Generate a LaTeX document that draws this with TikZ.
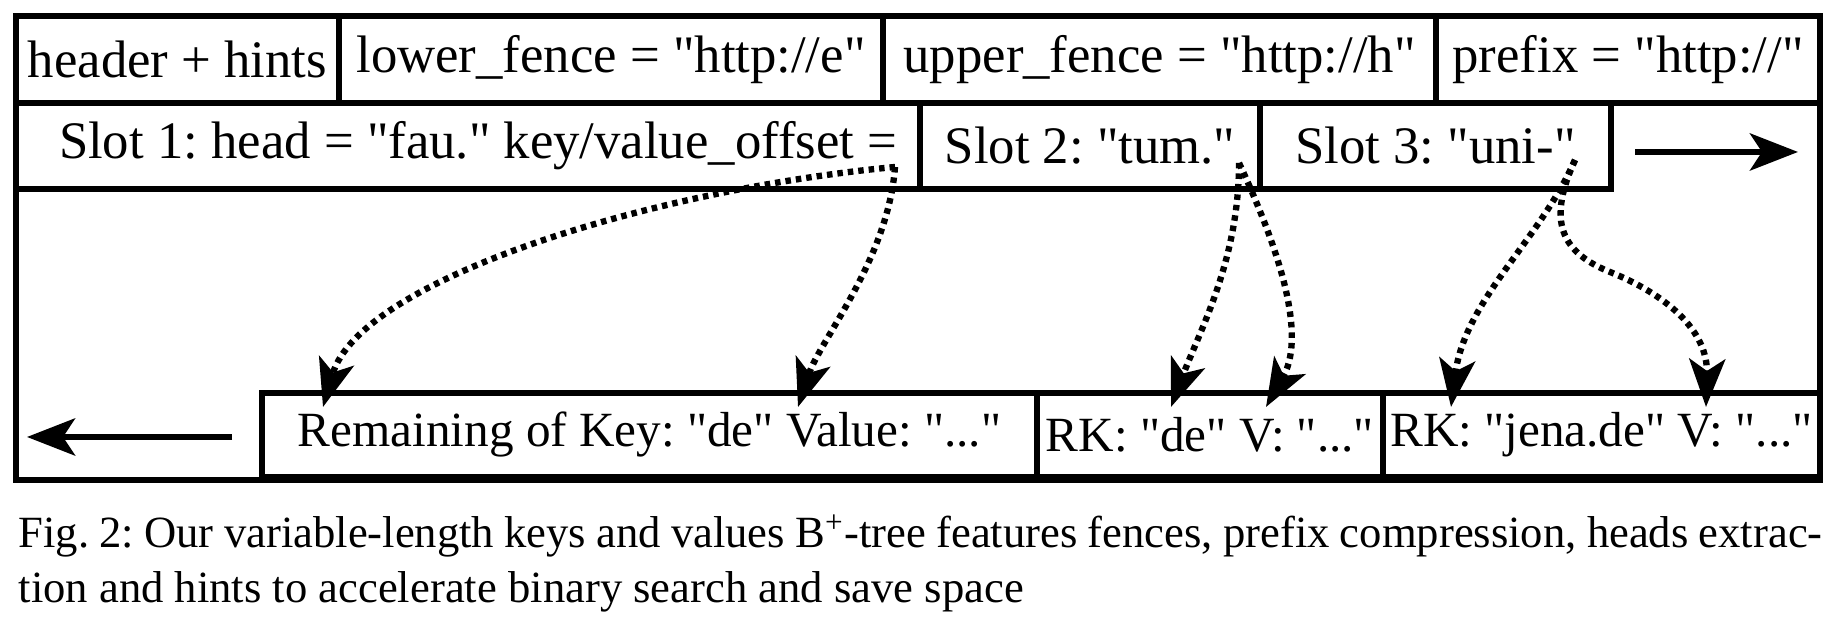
\documentclass[tikz,border=0pt]{standalone}
\usepackage{fontspec}
\setmainfont{Liberation Serif}[Ligatures=TeXOff]
\usetikzlibrary{arrows.meta}

\begin{document}
\frenchspacing
\begin{tikzpicture}[line width=1.5pt,
  ptr/.style={line width=1.8pt,dash pattern=on 0.55mm off 0.5mm,-{Stealth[length=4.8mm,width=3.6mm,inset=1.2mm]}},
  dir/.style={line width=1.9pt,-{Stealth[length=4.8mm,width=3.7mm,inset=1.2mm]}}]

\useasboundingbox (0,0) rectangle (18.33,6.19);

\draw (0.16,1.39) rectangle (18.20,6.03);

\begin{scope}[every node/.style={draw,rectangle,inner sep=0pt,minimum height=0.87cm,font=\fontsize{15}{18}\selectfont}]
\node[minimum width=3.23cm] (hdr) at (1.775,5.595) {header + hints};
\node[minimum width=5.44cm] (lfence) at (6.11,5.595) {lower\_fence = "http://e"};
\node[minimum width=5.53cm] (ufence) at (11.595,5.595) {upper\_fence = "http://h"};
\node[minimum width=3.84cm] (prefix) at (16.28,5.595) {prefix = "http://"};
\end{scope}

\begin{scope}[every node/.style={draw,rectangle,inner sep=0pt,minimum height=0.86cm,font=\fontsize{15}{18}\selectfont}]
\node[minimum width=9.04cm] (slot1) at (4.68,4.73) {\hspace{2mm}Slot 1: head = "fau." key/value\_offset =};
\node[minimum width=3.40cm] (slot2) at (10.90,4.73) {Slot 2: "tum."};
\node[minimum width=3.51cm] (slot3) at (14.355,4.73) {Slot 3: "uni-"};
\end{scope}

\begin{scope}[every node/.style={draw,rectangle,inner sep=0pt,minimum height=0.84cm,font=\fontsize{14}{17}\selectfont}]
\node[minimum width=7.75cm] (rem) at (6.495,1.84) {Remaining of Key: "de" Value: "..."};
\node[minimum width=3.46cm] (rk1) at (12.10,1.84) {RK: "de" V: "..."};
\node[minimum width=4.37cm] (rk2) at (16.015,1.84) {RK: "jena.de" V: "..."};
\end{scope}

\coordinate (s1) at (8.95,4.52);
\coordinate (s2) at (12.39,4.56);
\coordinate (s3) at (15.75,4.59);
\coordinate (t1) at (3.23,2.12);
\coordinate (t2) at (7.98,2.12);
\coordinate (t3) at (11.71,2.12);
\coordinate (t4) at (12.66,2.12);
\coordinate (t5) at (14.51,2.12);
\coordinate (t6) at (17.06,2.12);

\draw[ptr] (s1) .. controls (6.50,4.29) and (3.60,3.39) .. (t1);
\draw[ptr] (s1) .. controls (8.88,3.59) and (8.20,2.79) .. (t2);
\draw[ptr] (s2) .. controls (12.39,3.59) and (12.00,2.89) .. (t3);
\draw[ptr] (s2) .. controls (12.70,3.89) and (13.10,2.89) .. (t4);
\draw[ptr] (s3) .. controls (15.40,3.79) and (14.65,3.19) .. (t5);
\draw[ptr] (s3) .. controls (15.50,4.04) and (15.55,3.69) .. (16.10,3.47)
  .. controls (16.65,3.25) and (17.08,2.89) .. (t6);

\coordinate (rgtA) at (16.35,4.67);
\coordinate (rgtB) at (17.98,4.67);
\coordinate (lftA) at (2.32,1.82);
\coordinate (lftB) at (0.27,1.82);
\draw[dir] (rgtA) -- (rgtB);
\draw[dir] (lftA) -- (lftB);

\node[anchor=north west,inner sep=0pt,text width=180.4mm,align=justify,
  font=\fontsize{12.7}{15.6}\selectfont] (cap) at (0.16,1.07)
  {Fig. 2: Our variable-length keys and values B\textsuperscript{+}-tree features fences, prefix compression, heads extrac-\linebreak tion and hints to accelerate binary search and save space};
\end{tikzpicture}
\end{document}
